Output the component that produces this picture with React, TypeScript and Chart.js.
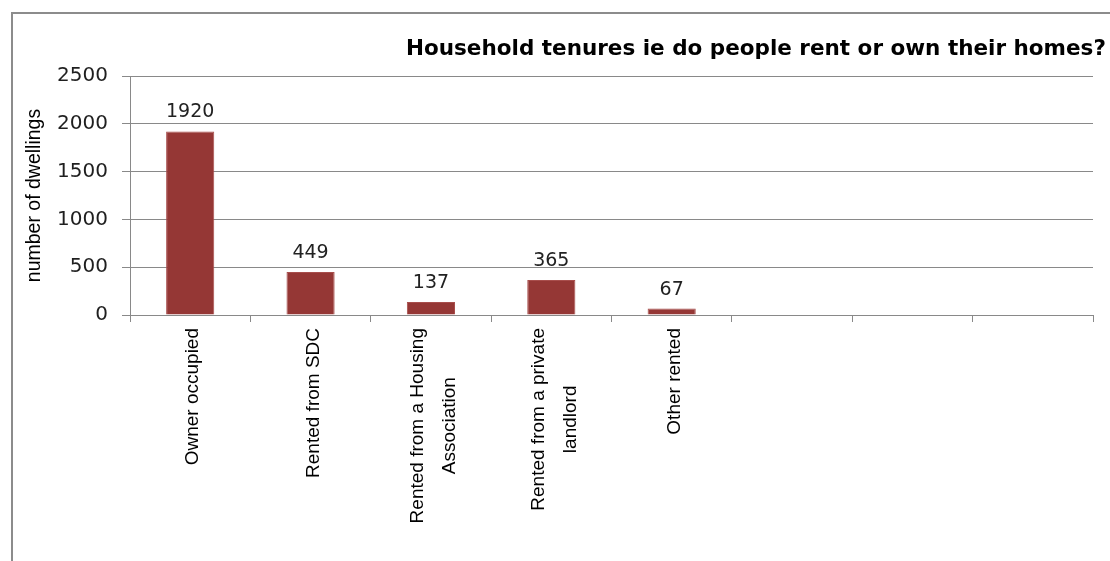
import { useEffect, useRef } from "react";
import { Chart, registerables } from "chart.js";

Chart.register(...registerables);

const categories: string[][] = [
  ["Owner occupied"],
  ["Rented from SDC"],
  ["Rented from a Housing", "Association"],
  ["Rented from a private", "landlord"],
  ["Other rented"],
  [""],
  [""],
  [""],
];
const dwellings: (number | null)[] = [1920, 449, 137, 365, 67, null, null, null];
const yTicks: number[] = [0, 500, 1000, 1500, 2000, 2500];
const chartTitle = "Household tenures ie do people rent or own their homes?";
const yAxisTitle = "number of dwellings";

const GRID = "#898989";

const framePlugin = {
  id: "frame",
  beforeDraw(chart: any) {
    const ctx = chart.ctx;
    ctx.save();
    ctx.fillStyle = "#ffffff";
    ctx.fillRect(0, 0, chart.width, chart.height);
    ctx.strokeStyle = "#8c8c8c";
    ctx.lineWidth = 2;
    ctx.beginPath();
    ctx.moveTo(12, chart.height + 2);
    ctx.lineTo(12, 13);
    ctx.lineTo(chart.width + 2, 13);
    ctx.stroke();
    ctx.restore();
  },
  afterDraw(chart: any) {
    const ctx = chart.ctx;
    ctx.save();
    ctx.fillStyle = "#000000";
    ctx.font = 'bold 21.5px "DejaVu Sans"';
    ctx.textAlign = "left";
    ctx.textBaseline = "alphabetic";
    ctx.fillText(chartTitle, 406, 55);
    ctx.restore();
  },
};

const xLabelPlugin = {
  id: "xLabels",
  afterDraw(chart: any) {
    const ctx = chart.ctx;
    const xs = chart.scales.x;
    const labels = chart.data.labels as string[][];
    ctx.save();
    ctx.font = '19px "Liberation Sans"';
    ctx.fillStyle = "#000000";
    labels.forEach((lab, i) => {
      const lines = Array.isArray(lab) ? lab : [lab];
      if (!lines.join("").length) return;
      const x = xs.getPixelForTick(i);
      const top = xs.top + 13;
      const block = Math.max(...lines.map((l) => ctx.measureText(l).width));
      ctx.save();
      ctx.translate(x, top);
      ctx.rotate(-Math.PI / 2);
      ctx.textAlign = "center";
      ctx.textBaseline = "middle";
      lines.forEach((l, j) => {
        ctx.fillText(l, -block / 2, (j - (lines.length - 1) / 2) * 32 + 3);
      });
      ctx.restore();
    });
    ctx.restore();
  },
};

const valueLabelPlugin = {
  id: "valueLabels",
  afterDatasetsDraw(chart: any) {
    const ctx = chart.ctx;
    const meta = chart.getDatasetMeta(0);
    const data = chart.data.datasets[0].data as (number | null)[];
    ctx.save();
    ctx.font = '19px "DejaVu Sans"';
    ctx.fillStyle = "#222222";
    ctx.textAlign = "center";
    ctx.textBaseline = "alphabetic";
    meta.data.forEach((bar: any, i: number) => {
      const v = data[i];
      if (v === null || v === undefined) return;
      ctx.fillText(String(v), bar.x, bar.y - 14);
    });
    ctx.restore();
  },
};

export default function App() {
  const ref = useRef<HTMLCanvasElement | null>(null);

  useEffect(() => {
    if (!ref.current) return;
    const chart = new Chart(ref.current, {
      type: "bar",
      data: {
        labels: categories as any,
        datasets: [
          {
            data: dwellings,
            backgroundColor: "#953735",
            borderColor: "#a84e4c",
            borderWidth: 1,
            barPercentage: 0.4,
            categoryPercentage: 1.0,
          },
        ],
      },
      options: {
        responsive: false,
        animation: false,
        devicePixelRatio: 1,
        layout: { padding: { left: 0, top: 76, right: 17, bottom: 0 } },
        plugins: {
          legend: { display: false },
          title: { display: false },
          tooltip: { enabled: false },
        },
        scales: {
          x: {
            offset: true,
            ticks: { display: false },
            grid: {
              offset: true,
              drawOnChartArea: false,
              drawTicks: true,
              tickLength: 7,
              color: GRID,
            },
            border: { display: true, color: GRID, width: 1 },
            afterFit: (s: any) => {
              s.height = 246;
            },
          },
          y: {
            min: 0,
            max: 2500,
            afterBuildTicks: (s: any) => {
              s.ticks = yTicks.map((v) => ({ value: v }));
            },
            ticks: {
              padding: 14,
              color: "#1f1f1f",
              font: { family: "DejaVu Sans", size: 20 },
              callback: (v: any) => String(v),
            },
            grid: {
              color: GRID,
              drawTicks: true,
              tickLength: 8,
            },
            border: { display: true, color: GRID, width: 1 },
            title: {
              display: true,
              text: yAxisTitle,
              color: "#000000",
              font: { family: "Liberation Sans", size: 19.5 },
              padding: { top: 23, bottom: 0 },
            },
            afterFit: (s: any) => {
              s.width = 130;
            },
          },
        },
      },
      plugins: [framePlugin, valueLabelPlugin, xLabelPlugin],
    });
    return () => chart.destroy();
  }, []);

  return (
    <div style={{ position: "fixed", left: 0, top: 0, width: 1110, height: 561, background: "#fff" }}>
      <canvas ref={ref} width={1110} height={561} style={{ display: "block" }} />
    </div>
  );
}
